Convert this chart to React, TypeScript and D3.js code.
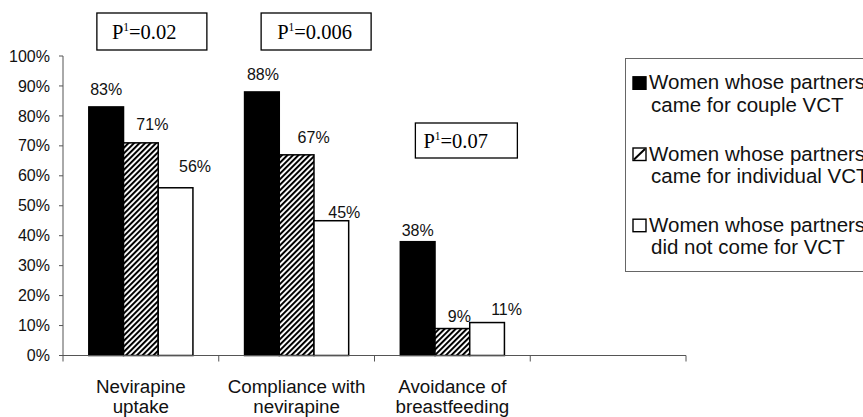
import React from "react";
import * as d3 from "d3";

const categories: string[][] = [
  ["Nevirapine", "uptake"],
  ["Compliance with", "nevirapine"],
  ["Avoidance of", "breastfeeding"],
];
const seriesNames: string[][] = [
  ["Women whose partners", "came for couple VCT"],
  ["Women whose partners", "came for individual VCT"],
  ["Women whose partners", "did not come for VCT"],
];
const couple = [83, 88, 38];
const individual = [71, 67, 9];
const noVct = [56, 45, 11];
const pValues = ["0.02", "0.006", "0.07"];
const yTicks = [0, 10, 20, 30, 40, 50, 60, 70, 80, 90, 100];

// label nudges (layout only)
const labelDx = [
  [0, 1, 0],
  [11.5, 17, 7],
  [19.5, 13, 19.5],
];
const labelGap = [
  [12, 12, 6],
  [12.7, 12, 7],
  [16, 3, 7.6],
];
const pBoxLayout = [
  { dx: 11, y: 13, w: 110, h: 37, pad: 15 },
  { dx: 19.5, y: 13, w: 110, h: 37, pad: 16 },
  { dx: 14, y: 123, w: 102, h: 35, pad: 8 },
];

const W = 863;
const H = 417;
const left = 63;
const right = 686;
const top = 56;
const bottom = 355.5;

export default function App() {
  const series = [couple, individual, noVct];
  const slots = ["c0", "c1", "c2", "c3"];
  const x = d3.scaleBand<string>().domain(slots).range([left, right]).paddingInner(0).paddingOuter(0);
  const xs = d3
    .scaleBand<number>()
    .domain([0, 1, 2])
    .range([0, x.bandwidth()])
    .paddingInner(0)
    .paddingOuter(0.744);
  const y = d3.scaleLinear().domain([0, 100]).range([bottom, top]);
  const sans = "'Liberation Sans', Arial, sans-serif";
  const serif = "'Liberation Serif', 'Times New Roman', serif";
  const fills = ["#000", "url(#hatch)", "#fff"];
  const axisColor = "#555";

  return (
    <svg width={W} height={H} style={{ position: "absolute", left: 0, top: 0, background: "#fff" }}>
      <defs>
        <pattern id="hatch" patternUnits="userSpaceOnUse" width={3.9} height={3.9} patternTransform="rotate(45)">
          <rect width={3.9} height={3.9} fill="#fff" />
          <line x1={1} y1={0} x2={1} y2={3.9} stroke="#000" strokeWidth={2} />
        </pattern>
      </defs>
      <rect x={0} y={0} width={W} height={H} fill="#fff" />

      {/* y axis */}
      <line x1={left} x2={left} y1={top} y2={bottom} stroke={axisColor} strokeWidth={1} />
      {yTicks.map((t) => (
        <g key={t}>
          <line x1={left - 4} x2={left} y1={y(t)} y2={y(t)} stroke={axisColor} />
          <text x={50} y={y(t)} dy="0.35em" textAnchor="end" fontFamily={sans} fontSize={16} fill="#111">
            {t}%
          </text>
        </g>
      ))}

      {/* bars */}
      {series.map((vals, si) =>
        vals.map((v, ci) => {
          const bx = (x(slots[ci]) as number) + (xs(si) as number);
          return (
            <rect
              key={`${si}-${ci}`}
              x={bx}
              y={y(v)}
              width={xs.bandwidth()}
              height={bottom - y(v)}
              fill={fills[si]}
              stroke="#000"
              strokeWidth={1.5}
            />
          );
        })
      )}

      {/* value labels */}
      {series.map((vals, si) =>
        vals.map((v, ci) => {
          const cx = (x(slots[ci]) as number) + (xs(si) as number) + xs.bandwidth() / 2 + labelDx[si][ci];
          return (
            <text
              key={`l-${si}-${ci}`}
              x={cx}
              y={y(v) - labelGap[si][ci]}
              textAnchor="middle"
              fontFamily={sans}
              fontSize={16}
              fill="#111"
            >
              {v}%
            </text>
          );
        })
      )}

      {/* x axis */}
      <line x1={left} x2={right} y1={bottom} y2={bottom} stroke={axisColor} strokeWidth={1} />
      {[...slots.map((s) => x(s) as number), right].map((tx, i) => (
        <line key={i} x1={tx} x2={tx} y1={bottom} y2={bottom + 6} stroke={axisColor} />
      ))}
      {categories.map((lines, ci) => {
        const cx = (x(slots[ci]) as number) + x.bandwidth() / 2;
        return (
          <text key={ci} textAnchor="middle" fontFamily={sans} fontSize={18.8} fill="#111">
            {lines.map((ln, li) => (
              <tspan key={li} x={cx} y={393 + li * 20}>
                {ln}
              </tspan>
            ))}
          </text>
        );
      })}

      {/* p-value boxes */}
      {pValues.map((p, i) => {
        const L = pBoxLayout[i];
        const cx = (x(slots[i]) as number) + x.bandwidth() / 2 + L.dx;
        const bx = cx - L.w / 2;
        return (
          <g key={p}>
            <rect x={bx} y={L.y} width={L.w} height={L.h} fill="#fff" stroke="#000" strokeWidth={1.3} />
            <text x={bx + L.pad} y={L.y + L.h / 2 + 7} fontFamily={serif} fontSize={20.5} fill="#000">
              P
              <tspan fontSize={11.5} dy={-7.5}>
                1
              </tspan>
              <tspan dy={7.5}>={p}</tspan>
            </text>
          </g>
        );
      })}

      {/* legend */}
      <rect x={625.5} y={58.5} width={260} height={213} fill="#fff" stroke="#666" strokeWidth={1} />
      {seriesNames.map((lines, si) => {
        const base = 89.3 + si * 71.2;
        return (
          <g key={si}>
            <rect
              x={633}
              y={base - 12.5}
              width={13}
              height={12.5}
              fill={si === 0 ? "#000" : "#fff"}
              stroke="#000"
              strokeWidth={1.4}
            />
            {si === 1 && <line x1={634} y1={base - 1} x2={645} y2={base - 11.5} stroke="#000" strokeWidth={2} />}
            <text fontFamily={sans} fontSize={20.5} fill="#111">
              <tspan x={649} y={base}>
                {lines[0]}
              </tspan>
              <tspan x={651} y={base + 22.5}>
                {lines[1]}
              </tspan>
            </text>
          </g>
        );
      })}
    </svg>
  );
}
